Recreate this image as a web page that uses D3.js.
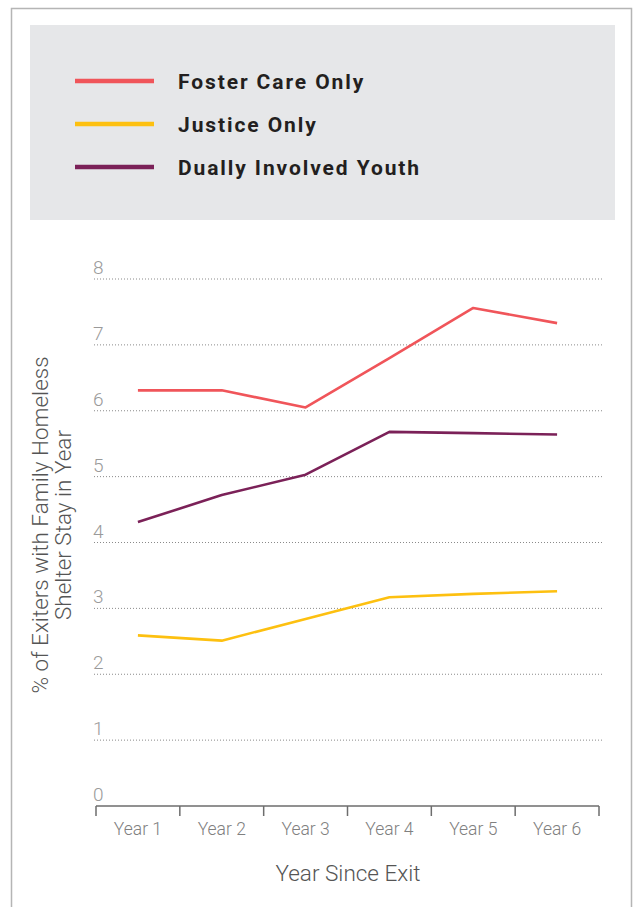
<!DOCTYPE html>
<html>
<head>
<meta charset="utf-8">
<script src="https://cdn.jsdelivr.net/npm/d3@7"></script>
<style>
  html, body { margin: 0; padding: 0; background: #fff; }
  svg { display: block; font-family: Roboto, "Open Sans", sans-serif; }
</style>
</head>
<body>
<svg id="chart" width="634" height="907"></svg>
<script>
// Share of exiters with a family homeless shelter stay, by year since exit
const years = ["Year 1", "Year 2", "Year 3", "Year 4", "Year 5", "Year 6"];
const fosterCareOnly = [6.31, 6.31, 6.05, 6.80, 7.56, 7.33];
const justiceOnly = [2.59, 2.51, 2.84, 3.17, 3.22, 3.26];
const duallyInvolved = [4.31, 4.72, 5.03, 5.68, 5.66, 5.64];
const yTicks = [0, 1, 2, 3, 4, 5, 6, 7, 8];

const seriesNames = ["Foster Care Only", "Justice Only", "Dually Involved Youth"];
const seriesColors = ["#f0555a", "#fdc010", "#7b2158"];
const series = [fosterCareOnly, justiceOnly, duallyInvolved].map((values, i) => ({
  name: seriesNames[i], color: seriesColors[i], values
}));

const svg = d3.select("#chart");

// outer frame
svg.append("path")
  .attr("d", "M11.5,915 V8.5 H631.5 V915")
  .attr("fill", "none").attr("stroke", "#b5b5b5").attr("stroke-width", 1.5);

// legend panel
svg.append("rect").attr("x", 30).attr("y", 25).attr("width", 585).attr("height", 195)
  .attr("fill", "#e6e7e9");

const legend = svg.append("g");
series.forEach((s, i) => {
  const y = 81 + i * 43;
  legend.append("line").attr("x1", 75).attr("x2", 154).attr("y1", y).attr("y2", y)
    .attr("stroke", s.color).attr("stroke-width", 4.5);
  legend.append("text").attr("x", 178).attr("y", y + 7.5)
    .attr("font-size", 21).attr("font-weight", 700).attr("fill", "#231f20")
    .attr("letter-spacing", "1.9px")
    .text(s.name);
});

// scales
const x = d3.scaleBand().domain(years).range([96, 599]);
const y = d3.scaleLinear().domain([0, 8]).range([806, 279]);

// gridlines with value labels
const grid = svg.append("g");
yTicks.filter(t => t > 0).forEach(t => {
  grid.append("line").attr("x1", 94).attr("x2", 604).attr("y1", y(t)).attr("y2", y(t))
    .attr("stroke", "#8a8a8a").attr("stroke-width", 1).attr("stroke-dasharray", "1,2");
});
yTicks.forEach(t => {
  grid.append("text").attr("x", 93).attr("y", y(t) - 5)
    .attr("font-size", 19).attr("font-weight", 300).attr("fill", "#9a9a9a")
    .text(t);
});

// x axis: baseline with boundary ticks between categories
const xAxis = d3.axisBottom(x).tickSize(0).tickPadding(17);
const gx = svg.append("g").attr("transform", `translate(0,${y(0)})`).call(xAxis);
gx.select(".domain").remove();
gx.selectAll("text").attr("font-size", 17.5).attr("font-weight", 300).attr("fill", "#808080")
  .attr("font-family", "Roboto, sans-serif");
svg.append("line").attr("x1", 96).attr("x2", 599).attr("y1", y(0)).attr("y2", y(0))
  .attr("stroke", "#6d6d6d").attr("stroke-width", 1.5);
const bounds = years.map(d => x(d)).concat([x(years[years.length - 1]) + x.bandwidth()]);
svg.append("g").selectAll("line").data(bounds).join("line")
  .attr("x1", d => d).attr("x2", d => d).attr("y1", y(0)).attr("y2", y(0) + 10)
  .attr("stroke", "#6d6d6d").attr("stroke-width", 1.5);

// series lines
const line = d3.line()
  .x((d, i) => x(years[i]) + x.bandwidth() / 2)
  .y(d => y(d));
svg.append("g").selectAll("path").data(series).join("path")
  .attr("d", d => line(d.values))
  .attr("fill", "none").attr("stroke", d => d.color).attr("stroke-width", 2.6)
  .attr("stroke-linejoin", "round");

// axis titles
svg.append("text").attr("x", 348).attr("y", 881).attr("text-anchor", "middle")
  .attr("font-size", 22.5).attr("font-weight", 300).attr("fill", "#555")
  .text("Year Since Exit");
const yt = svg.append("text").attr("transform", "rotate(-90)")
  .attr("text-anchor", "middle").attr("font-size", 22.5).attr("font-weight", 300).attr("fill", "#555");
yt.append("tspan").attr("x", -525).attr("y", 48).text("% of Exiters with Family Homeless");
yt.append("tspan").attr("x", -525).attr("y", 71).text("Shelter Stay in Year");
</script>
</body>
</html>
